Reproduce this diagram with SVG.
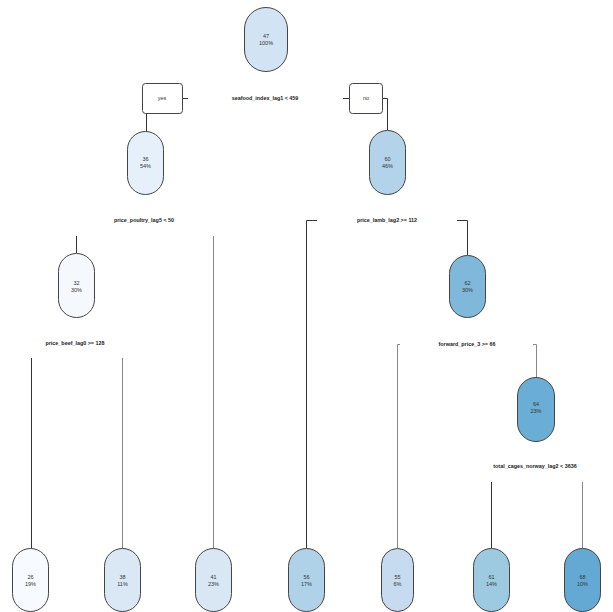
<svg xmlns="http://www.w3.org/2000/svg" width="613" height="612" viewBox="0 0 613 612">
  <style>
    .node { stroke: #444; stroke-width: 1; }
    .box { fill: #fff; stroke: #444; stroke-width: 1; }
    .val { font-family: "Liberation Sans", Arial, sans-serif; font-size: 5.5px; fill: #333; text-anchor: middle; }
    .split { font-family: "Liberation Sans", Arial, sans-serif; font-size: 5.4px; font-weight: bold; fill: #222; text-anchor: middle; }
    .dark { fill: none; stroke: #333; stroke-width: 1; }
    .light { fill: none; stroke: #888; stroke-width: 1; }
  </style>
  <rect width="613" height="612" fill="#fff"/>

  <!-- branches (offset by half a pixel so 1px strokes stay crisp) -->
  <g id="connectors">
    <path class="dark" d="M182,98.5 H188 M146.5,113 V131"/>
    <path class="dark" d="M343,98.5 H349 M382,98.5 H387.5 V130"/>
    <path class="dark" d="M76.5,236 V253"/>
    <path class="light" d="M213.5,236 V548"/>
    <path class="dark" d="M317,220.5 H306.5 V548"/>
    <path class="dark" d="M457,220.5 H467.5 V255"/>
    <path class="dark" d="M31.5,358 V548"/>
    <path class="light" d="M122.5,358 V548"/>
    <path class="light" d="M400,344.5 H397.5 V548"/>
    <path class="light" d="M533,344.5 H536.5 V377"/>
    <path class="dark" d="M491.5,482 V548"/>
    <path class="light" d="M582.5,482 V548"/>
  </g>

  <!-- split labels -->
  <g id="splits">
    <text class="split" x="265" y="100">seafood_index_lag1 &lt; 459</text>
    <text class="split" x="144" y="222">price_poultry_lag5 &lt; 50</text>
    <text class="split" x="387" y="222">price_lamb_lag2 &gt;= 112</text>
    <text class="split" x="75" y="345">price_beef_lag0 &gt;= 128</text>
    <text class="split" x="467" y="346">forward_price_3 &gt;= 66</text>
    <text class="split" x="535" y="468">total_cages_norway_lag2 &lt; 3636</text>
  </g>

  <g id="yes">
    <rect class="box" x="142.5" y="83.5" width="40" height="30" rx="3"/>
    <text class="val" x="162" y="100">yes</text>
  </g>
  <g id="no">
    <rect class="box" x="349.5" y="83.5" width="33" height="30" rx="3"/>
    <text class="val" x="366" y="100">no</text>
  </g>

  <g id="n1">
    <rect class="node" x="244.5" y="7.5" width="43" height="64" rx="21.5" fill="#d2e3f3"/>
    <text class="val" x="266" y="38">47</text>
    <text class="val" x="266" y="45">100%</text>
  </g>
  <g id="n2">
    <rect class="node" x="127.5" y="131.5" width="36" height="63" rx="18" fill="#e6f0fa"/>
    <text class="val" x="145.5" y="161">36</text>
    <text class="val" x="145.5" y="168">54%</text>
  </g>
  <g id="n3">
    <rect class="node" x="369.5" y="130.5" width="36" height="64" rx="18" fill="#b3d3ea"/>
    <text class="val" x="387.5" y="161">60</text>
    <text class="val" x="387.5" y="168">46%</text>
  </g>
  <g id="n4">
    <rect class="node" x="58.5" y="253.5" width="36" height="64" rx="18" fill="#f5f9fe"/>
    <text class="val" x="76.5" y="285">32</text>
    <text class="val" x="76.5" y="292">30%</text>
  </g>
  <g id="n7">
    <rect class="node" x="449.5" y="255.5" width="36" height="62" rx="18" fill="#7fb8da"/>
    <text class="val" x="467.5" y="285">62</text>
    <text class="val" x="467.5" y="292">30%</text>
  </g>
  <g id="n15">
    <rect class="node" x="517.5" y="377.5" width="37" height="64" rx="18.5" fill="#6aaed6"/>
    <text class="val" x="536" y="406">64</text>
    <text class="val" x="536" y="413">23%</text>
  </g>

  <g id="n8">
    <rect class="node" x="12.5" y="548.5" width="36" height="63" rx="18" fill="#f7fbff"/>
    <text class="val" x="30.5" y="579">26</text>
    <text class="val" x="30.5" y="586">19%</text>
  </g>
  <g id="n9">
    <rect class="node" x="104.5" y="548.5" width="36" height="63" rx="18" fill="#dae8f5"/>
    <text class="val" x="122.5" y="579">38</text>
    <text class="val" x="122.5" y="586">11%</text>
  </g>
  <g id="n5">
    <rect class="node" x="195.5" y="548.5" width="36" height="63" rx="18" fill="#d9e7f5"/>
    <text class="val" x="213.5" y="579">41</text>
    <text class="val" x="213.5" y="586">23%</text>
  </g>
  <g id="n6">
    <rect class="node" x="288.5" y="548.5" width="36" height="63" rx="18" fill="#b0d2e8"/>
    <text class="val" x="306.5" y="579">56</text>
    <text class="val" x="306.5" y="586">17%</text>
  </g>
  <g id="n14">
    <rect class="node" x="381.5" y="548.5" width="32" height="63" rx="16" fill="#c6dbef"/>
    <text class="val" x="397.5" y="579">55</text>
    <text class="val" x="397.5" y="586">6%</text>
  </g>
  <g id="n30">
    <rect class="node" x="473.5" y="548.5" width="36" height="63" rx="18" fill="#9dcae1"/>
    <text class="val" x="491.5" y="579">61</text>
    <text class="val" x="491.5" y="586">14%</text>
  </g>
  <g id="n31">
    <rect class="node" x="564.5" y="548.5" width="36" height="63" rx="18" fill="#64a9d4"/>
    <text class="val" x="582.5" y="579">68</text>
    <text class="val" x="582.5" y="586">10%</text>
  </g>
</svg>
